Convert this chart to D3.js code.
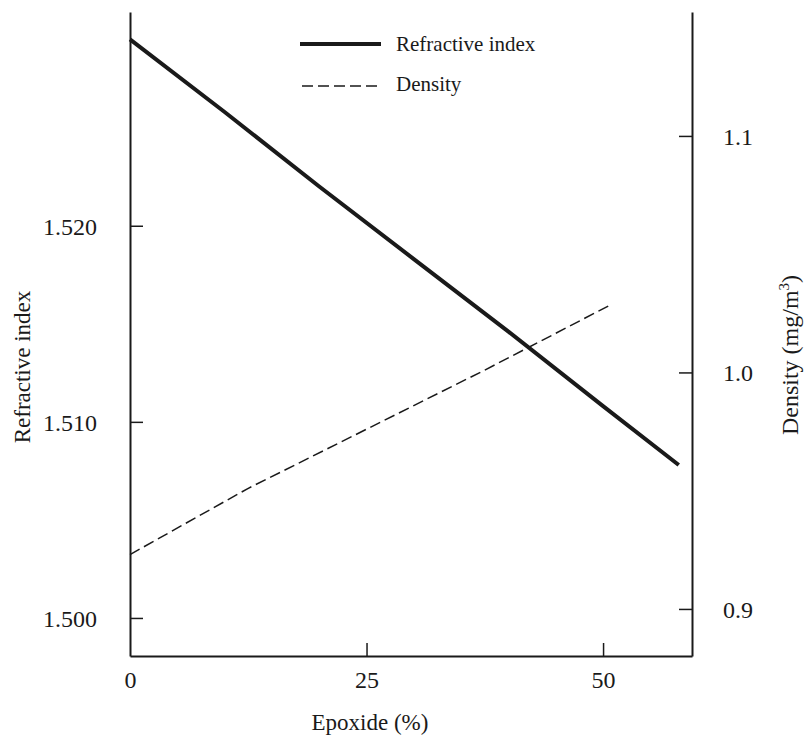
<!DOCTYPE html>
<html><head><meta charset="utf-8">
<script src="https://cdn.jsdelivr.net/npm/d3@7"></script>
<style>body{margin:0;background:#fff}svg{display:block}text{font-family:"Liberation Serif","Times New Roman",serif;fill:#1a1a1a}</style>
</head><body><svg id="c" width="810" height="736"></svg>
<script>
const epoxide = [0, 10, 20, 30, 40, 50, 58];
const refractive = [1.5295, 1.5258, 1.5220, 1.5183, 1.5146, 1.5108, 1.5078];
const densityX = [0, 12.5, 25, 37.5, 51];
const density = [0.923, 0.951, 0.976, 1.001, 1.029];
const xTicks = [0, 25, 50];
const leftTicks = [1.500, 1.510, 1.520];
const rightTicks = [0.9, 1.0, 1.1];

const svg = d3.select("#c");
const L = 130, R = 692, T = 12, B = 656;
const x = d3.scaleLinear().domain([0, 59.4]).range([L, R]);
const yL = d3.scaleLinear().domain([1.49806, 1.5309]).range([B, T]);
const yR = d3.scaleLinear().domain([0.8801, 1.1524]).range([B, T]);
const ink = "#1a1a1a";

// axes
const ax = svg.append("g").attr("transform", `translate(0,${B})`)
  .call(d3.axisBottom(x).tickValues(xTicks).tickSizeInner(-13).tickSizeOuter(0).tickPadding(20).tickFormat(d3.format("d")));
const al = svg.append("g").attr("transform", `translate(${L},0)`)
  .call(d3.axisLeft(yL).tickValues(leftTicks).tickSizeInner(-13).tickSizeOuter(0).tickPadding(33).tickFormat(d3.format(".3f")));
const ar = svg.append("g").attr("transform", `translate(${R},0)`)
  .call(d3.axisRight(yR).tickValues(rightTicks).tickSizeInner(-13).tickSizeOuter(0).tickPadding(43).tickFormat(d3.format(".1f")));
[ax, al, ar].forEach(g => {
  g.select(".domain").attr("stroke", ink).attr("stroke-width", 2);
  g.selectAll(".tick line").attr("stroke", ink).attr("stroke-width", 1.5);
  g.selectAll(".tick text").attr("font-size", 24).attr("fill", ink)
    .style("font-family", '"Liberation Serif", serif');
});
ax.selectAll(".tick").filter(d => d === 0).select("line").remove();
ax.selectAll(".tick text").attr("dy", "0.5em");
al.selectAll(".tick text").attr("dy", "0.35em");
ar.selectAll(".tick text").attr("text-anchor", "start").attr("dx", -12).attr("dy", "0.35em");

// lines
const lineR = d3.line().x((d, i) => x(epoxide[i])).y(d => yL(d));
svg.append("path").attr("d", lineR(refractive)).attr("fill", "none")
  .attr("stroke", ink).attr("stroke-width", 4);
const lineD = d3.line().x((d, i) => x(densityX[i])).y(d => yR(d));
svg.append("path").attr("d", lineD(density)).attr("fill", "none")
  .attr("stroke", ink).attr("stroke-width", 1.5).attr("stroke-dasharray", "11,5");

// legend
const lg = svg.append("g");
lg.append("line").attr("x1", 300).attr("x2", 381).attr("y1", 44).attr("y2", 44)
  .attr("stroke", ink).attr("stroke-width", 4);
lg.append("text").attr("x", 396).attr("y", 51).attr("font-size", 21).text("Refractive index");
lg.append("line").attr("x1", 302).attr("x2", 379).attr("y1", 86).attr("y2", 86)
  .attr("stroke", ink).attr("stroke-width", 1.5).attr("stroke-dasharray", "11,5");
lg.append("text").attr("x", 396).attr("y", 91).attr("font-size", 21).text("Density");

// axis titles
svg.append("text").attr("x", 370).attr("y", 730).attr("text-anchor", "middle")
  .attr("font-size", 23).text("Epoxide (%)");
svg.append("text").attr("transform", "translate(30,367) rotate(-90)")
  .attr("text-anchor", "middle").attr("font-size", 23).text("Refractive index");
const dt = svg.append("text").attr("transform", "translate(798,355) rotate(-90)")
  .attr("text-anchor", "middle").attr("font-size", 24);
dt.append("tspan").text("Density (mg/m");
dt.append("tspan").attr("dy", -9).attr("font-size", 15).text("3");
dt.append("tspan").attr("dy", 9).text(")");
</script></body></html>
